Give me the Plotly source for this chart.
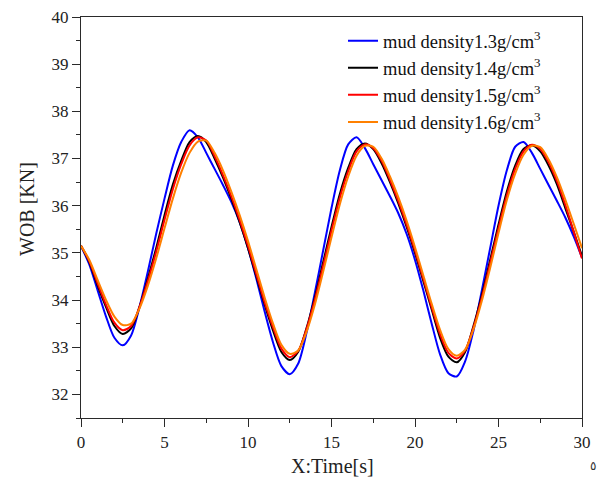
import plotly.graph_objects as go

time_s = [i * 0.5 for i in range(61)]

wob_13 = [35.15, 34.75, 34.2, 33.65, 33.2, 33.04, 33.25, 33.85, 34.6, 35.4,
          36.15, 36.85, 37.35, 37.6, 37.45, 37.12, 36.78, 36.44, 36.08, 35.65,
          35.1, 34.45, 33.75, 33.1, 32.6, 32.43, 32.65, 33.3, 34.15, 35.05,
          35.95, 36.75, 37.3, 37.45, 37.22, 36.88, 36.54, 36.2, 35.84, 35.4,
          34.85, 34.2, 33.5, 32.85, 32.45, 32.38, 32.7, 33.35, 34.2, 35.1,
          36.0, 36.75, 37.25, 37.35, 37.12, 36.78, 36.44, 36.1, 35.75, 35.35,
          34.9]

wob_14 = [35.15, 34.8, 34.3, 33.85, 33.45, 33.28, 33.4, 33.85, 34.45, 35.1,
          35.8, 36.45, 36.95, 37.35, 37.48, 37.35, 37.0, 36.6, 36.15, 35.65,
          35.1, 34.5, 33.9, 33.35, 32.9, 32.73, 32.9, 33.4, 34.05, 34.8,
          35.55, 36.25, 36.8, 37.2, 37.32, 37.2, 36.9, 36.5, 36.05, 35.55,
          35.0, 34.4, 33.8, 33.2, 32.8, 32.68, 32.9, 33.45, 34.1, 34.85,
          35.6, 36.3, 36.85, 37.2, 37.28, 37.15, 36.85, 36.45, 35.95, 35.45,
          34.93]

wob_15 = [35.15, 34.82, 34.35, 33.9, 33.52, 33.36, 33.45, 33.85, 34.4, 35.02,
          35.7, 36.35, 36.88, 37.28, 37.45, 37.38, 37.05, 36.65, 36.2, 35.7,
          35.15, 34.55, 33.95, 33.42, 32.97, 32.79, 32.92, 33.38, 34.0, 34.72,
          35.47, 36.17, 36.73, 37.15, 37.3, 37.22, 36.95, 36.55, 36.1, 35.6,
          35.05, 34.45, 33.85, 33.28, 32.88, 32.76, 32.93, 33.42, 34.05, 34.78,
          35.52, 36.22, 36.78, 37.15, 37.29, 37.2, 36.92, 36.52, 36.02, 35.45,
          34.88]

wob_16 = [35.15, 34.85, 34.42, 34.0, 33.65, 33.47, 33.5, 33.82, 34.3, 34.88,
          35.52, 36.15, 36.7, 37.12, 37.36, 37.38, 37.12, 36.75, 36.3, 35.8,
          35.25, 34.65, 34.05, 33.5, 33.05, 32.86, 32.93, 33.32, 33.9, 34.6,
          35.33, 36.03, 36.62, 37.06, 37.27, 37.25, 37.0, 36.62, 36.18, 35.68,
          35.12, 34.52, 33.92, 33.37, 32.96, 32.82, 32.95, 33.38, 33.98, 34.68,
          35.42, 36.12, 36.68, 37.08, 37.27, 37.24, 36.98, 36.6, 36.13, 35.62,
          35.1]

series_names = ["mud density1.3g/cm<sup>3</sup>",
                "mud density1.4g/cm<sup>3</sup>",
                "mud density1.5g/cm<sup>3</sup>",
                "mud density1.6g/cm<sup>3</sup>"]
series_values = [wob_13, wob_14, wob_15, wob_16]
series_colors = ["#0000FF", "#000000", "#FF0000", "#FF8000"]

x_ticks = [0, 5, 10, 15, 20, 25, 30]
y_ticks = [32, 33, 34, 35, 36, 37, 38, 39, 40]

FONT = "Liberation Serif, Times New Roman, serif"
W, H = 600, 480
ML, MR, MT, MB = 81, 18, 17, 62
PW, PH = W - ML - MR, H - MT - MB

fig = go.Figure()
for name, vals, col in zip(series_names, series_values, series_colors):
    fig.add_trace(go.Scatter(x=time_s, y=vals, mode="lines", name=name,
                             line=dict(color=col, width=2, shape="spline", smoothing=0.8)))

axis_common = dict(showline=True, linecolor="#2a2a2a", linewidth=1.3, mirror=True,
                   ticks="outside", ticklen=8, tickwidth=1.3, tickcolor="#2a2a2a",
                   showgrid=False, zeroline=False, automargin=False,
                   tickfont=dict(family=FONT, size=17, color="#222222"))

fig.update_xaxes(range=[0, 30], tickvals=x_ticks,
                 minor=dict(ticks="outside", ticklen=4, tickwidth=1.2, tickcolor="#2a2a2a", dtick=2.5, tick0=0),
                 **axis_common)
fig.update_yaxes(range=[31.5, 40], tickvals=y_ticks,
                 minor=dict(ticks="outside", ticklen=4, tickwidth=1.2, tickcolor="#2a2a2a", dtick=0.5, tick0=31.5),
                 **axis_common)

fig.update_layout(
    width=W, height=H,
    margin=dict(l=ML, r=MR, t=MT, b=MB, autoexpand=False),
    paper_bgcolor="white", plot_bgcolor="white",
    showlegend=True,
    legend=dict(x=(343 - ML) / PW, y=0.987, xanchor="left", yanchor="top",
                bgcolor="rgba(0,0,0,0)", borderwidth=0,
                font=dict(family=FONT, size=18.5, color="#111111"),
                tracegroupgap=0),
    annotations=[
        dict(text="WOB [KN]", textangle=-90, x=(27 - ML) / PW, y=1 - (209 - MT) / PH,
             xref="paper", yref="paper", showarrow=False, xanchor="center", yanchor="middle",
             font=dict(family=FONT, size=20, color="#222222")),
        dict(text="X:Time[s]", x=(332 - ML) / PW, y=(H - MB - 466) / PH,
             xref="paper", yref="paper", showarrow=False, xanchor="center", yanchor="middle",
             font=dict(family=FONT, size=20, color="#222222")),
        dict(text="٥", x=(593 - ML) / PW, y=(H - MB - 466) / PH, xref="paper", yref="paper",
             showarrow=False, xanchor="center", yanchor="middle",
             font=dict(family="DejaVu Sans", size=12, color="#333333")),
    ],
)

fig.write_html("out.html", config={"displayModeBar": False},
               post_script="document.body.style.margin='0';document.body.style.overflow='hidden';")
